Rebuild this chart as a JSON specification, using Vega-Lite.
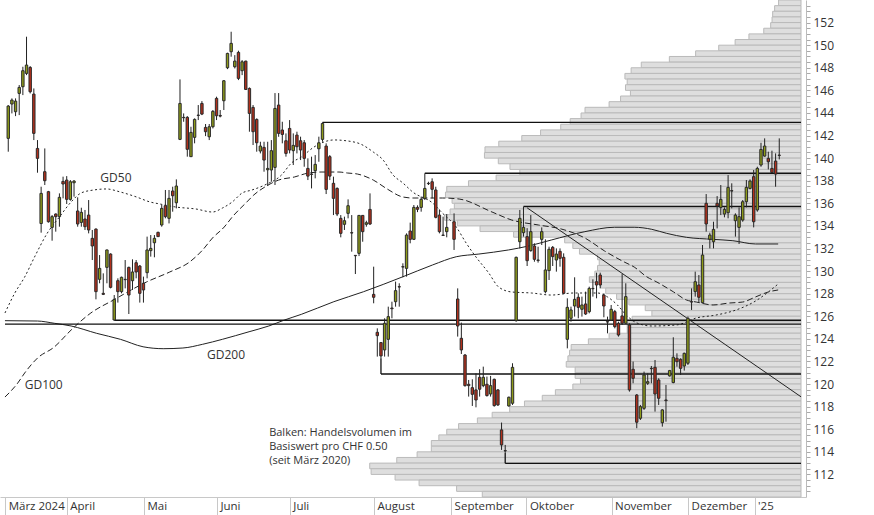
{
"$schema":"https://vega.github.io/schema/vega-lite/v6.json",
"width":806,"height":497,"autosize":{"type":"none"},"padding":{"left":0,"top":0,"right":68,"bottom":18},"background":"white",
"config":{"view":{"stroke":null},"font":"Open Sans","axis":{"grid":false,"labelFont":"Open Sans","labelColor":"#333333"}},
"datasets":{
"vol":[{"lo":153.5,"hi":154,"x0":210.81},{"lo":153,"hi":153.5,"x0":209.73},{"lo":152.5,"hi":153,"x0":209.19},{"lo":152,"hi":152.5,"x0":209.03},{"lo":151.5,"hi":152,"x0":208.65},{"lo":151,"hi":151.5,"x0":206.76},{"lo":150.5,"hi":151,"x0":202.7},{"lo":150,"hi":150.5,"x0":198.92},{"lo":149.5,"hi":150,"x0":194.43},{"lo":149,"hi":149.5,"x0":188.11},{"lo":148.5,"hi":149,"x0":180.92},{"lo":148,"hi":148.5,"x0":173.24},{"lo":147.5,"hi":148,"x0":170.46},{"lo":147,"hi":147.5,"x0":168.76},{"lo":146.5,"hi":147,"x0":169.38},{"lo":146,"hi":146.5,"x0":168.92},{"lo":145.5,"hi":146,"x0":170.27},{"lo":145,"hi":145.5,"x0":167.57},{"lo":144.5,"hi":145,"x0":164.43},{"lo":144,"hi":144.5,"x0":157.84},{"lo":143.5,"hi":144,"x0":156.76},{"lo":143,"hi":143.5,"x0":153.78},{"lo":142.5,"hi":143,"x0":151.19},{"lo":142,"hi":142.5,"x0":145.68},{"lo":141.5,"hi":142,"x0":140.54},{"lo":141,"hi":141.5,"x0":134.24},{"lo":140.5,"hi":141,"x0":130.46},{"lo":140,"hi":140.5,"x0":130.32},{"lo":139.5,"hi":140,"x0":134.11},{"lo":139,"hi":139.5,"x0":137.3},{"lo":138.5,"hi":139,"x0":140.0},{"lo":138,"hi":138.5,"x0":133.51},{"lo":137.5,"hi":138,"x0":125.95},{"lo":137,"hi":137.5,"x0":120.0},{"lo":136.5,"hi":137,"x0":119.65},{"lo":136,"hi":136.5,"x0":121.46},{"lo":135.5,"hi":136,"x0":122.08},{"lo":135,"hi":135.5,"x0":120.92},{"lo":134.5,"hi":135,"x0":119.38},{"lo":134,"hi":134.5,"x0":122.89},{"lo":133.5,"hi":134,"x0":129.11},{"lo":133,"hi":133.5,"x0":138.3},{"lo":132.5,"hi":133,"x0":152.27},{"lo":132,"hi":132.5,"x0":154.51},{"lo":131.5,"hi":132,"x0":156.32},{"lo":131,"hi":131.5,"x0":161.27},{"lo":130.5,"hi":131,"x0":161.73},{"lo":130,"hi":130.5,"x0":161.27},{"lo":129.5,"hi":130,"x0":160.54},{"lo":129,"hi":129.5,"x0":159.03},{"lo":128.5,"hi":129,"x0":162.16},{"lo":128,"hi":128.5,"x0":163.51},{"lo":127.5,"hi":128,"x0":166.49},{"lo":127,"hi":127.5,"x0":169.84},{"lo":126.5,"hi":127,"x0":174.32},{"lo":126,"hi":126.5,"x0":176.14},{"lo":125.5,"hi":126,"x0":170.73},{"lo":125,"hi":125.5,"x0":169.38},{"lo":124.5,"hi":125,"x0":169.38},{"lo":124,"hi":124.5,"x0":164.43},{"lo":123.5,"hi":124,"x0":158.76},{"lo":123,"hi":123.5,"x0":154.05},{"lo":122.5,"hi":123,"x0":153.62},{"lo":122,"hi":122.5,"x0":153.16},{"lo":121.5,"hi":122,"x0":152.7},{"lo":121,"hi":121.5,"x0":155.14},{"lo":120.5,"hi":121,"x0":155.14},{"lo":120,"hi":120.5,"x0":156.59},{"lo":119.5,"hi":120,"x0":154.51},{"lo":119,"hi":119.5,"x0":149.73},{"lo":118.5,"hi":119,"x0":146.14},{"lo":118,"hi":118.5,"x0":141.27},{"lo":117.5,"hi":118,"x0":137.22},{"lo":117,"hi":117.5,"x0":132.43},{"lo":116.5,"hi":117,"x0":128.38},{"lo":116,"hi":116.5,"x0":123.24},{"lo":115.5,"hi":116,"x0":120.0},{"lo":115,"hi":115.5,"x0":117.84},{"lo":114.5,"hi":115,"x0":115.78},{"lo":114,"hi":114.5,"x0":115.78},{"lo":113.5,"hi":114,"x0":111.89},{"lo":113,"hi":113.5,"x0":106.32},{"lo":112.5,"hi":113,"x0":98.92},{"lo":112,"hi":112.5,"x0":99.3},{"lo":111.5,"hi":112,"x0":105.86},{"lo":111,"hi":111.5,"x0":112.43},{"lo":110.5,"hi":111,"x0":122.7},{"lo":110,"hi":110.5,"x0":129.73}],
"candles":[
{"i":0,"o":141.75,"h":144.7,"l":140.57,"c":144.61},{"i":1,"o":144.79,"h":145.29,"l":143.96,"c":145.14},{"i":2,"o":144.11,"h":145.29,"l":143.72,"c":145.05},{"i":3,"o":145.73,"h":146.47,"l":143.81,"c":146.26},{"i":4,"o":146.32,"h":148.09,"l":145.58,"c":147.74},{"i":5,"o":147.5,"h":150.75,"l":147.35,"c":148.24},{"i":6,"o":148.03,"h":148.15,"l":145.73,"c":145.88},{"i":7,"o":145.67,"h":146.17,"l":141.6,"c":142.19},{"i":8,"o":140.86,"h":141.6,"l":138.71,"c":139.98},{"i":9,"o":134.21,"h":137.47,"l":133.4,"c":136.88},
{"i":10,"o":138.8,"h":140.86,"l":137.62,"c":138.0},{"i":11,"o":137.03,"h":137.1,"l":134.29,"c":134.37},{"i":12,"o":133.87,"h":134.96,"l":132.69,"c":134.82},{"i":13,"o":135.05,"h":135.11,"l":133.49,"c":134.82},{"i":14,"o":134.82,"h":136.88,"l":133.93,"c":136.53},{"i":15,"o":137.94,"h":138.36,"l":136.44,"c":137.71},{"i":16,"o":138.06,"h":138.41,"l":135.94,"c":136.35},{"i":17,"o":136.35,"h":138.06,"l":136.23,"c":137.91},{"i":18,"o":137.82,"h":138.06,"l":136.59,"c":137.97},{"i":19,"o":135.32,"h":136.53,"l":133.93,"c":134.17},
{"i":20,"o":134.31,"h":135.61,"l":133.93,"c":135.2},{"i":21,"o":134.61,"h":135.41,"l":133.64,"c":133.93},{"i":22,"o":134.96,"h":136.29,"l":133.34,"c":133.64},{"i":23,"o":132.9,"h":133.64,"l":130.98,"c":132.22},{"i":24,"o":133.72,"h":133.78,"l":127.5,"c":128.18},{"i":25,"o":129.27,"h":131.42,"l":128.92,"c":130.24},{"i":26,"o":128.03,"h":129.8,"l":127.88,"c":127.94},{"i":27,"o":130.33,"h":131.9,"l":128.92,"c":131.87},{"i":28,"o":131.51,"h":131.57,"l":128.47,"c":128.56},{"i":29,"o":125.67,"h":127.88,"l":125.65,"c":127.5},
{"i":30,"o":129.15,"h":129.36,"l":127.21,"c":128.18},{"i":31,"o":128.18,"h":129.51,"l":128.03,"c":129.45},{"i":32,"o":129.27,"h":130.98,"l":128.47,"c":129.24},{"i":33,"o":130.33,"h":130.39,"l":126.2,"c":127.88},{"i":34,"o":129.15,"h":131.04,"l":128.33,"c":129.92},{"i":35,"o":130.74,"h":130.98,"l":129.36,"c":129.92},{"i":36,"o":130.45,"h":130.54,"l":127.21,"c":128.03},{"i":37,"o":128.92,"h":129.51,"l":127.21,"c":128.33},{"i":38,"o":129.86,"h":133.05,"l":129.36,"c":131.87},{"i":39,"o":131.81,"h":133.19,"l":131.28,"c":132.01},
{"i":40,"o":132.51,"h":133.19,"l":131.22,"c":132.9},{"i":41,"o":133.43,"h":133.49,"l":133.05,"c":133.05},{"i":42,"o":134.08,"h":135.85,"l":133.93,"c":135.55},{"i":43,"o":135.79,"h":137.18,"l":134.67,"c":134.82},{"i":44,"o":134.67,"h":137.18,"l":134.22,"c":136.44},{"i":45,"o":137.09,"h":137.47,"l":135.26,"c":136.67},{"i":46,"o":136.05,"h":138.12,"l":135.55,"c":137.53},{"i":47,"o":141.66,"h":146.97,"l":141.6,"c":144.84},{"i":48,"o":143.61,"h":143.96,"l":143.22,"c":143.58},{"i":49,"o":143.61,"h":143.72,"l":140.13,"c":140.78},
{"i":50,"o":140.13,"h":142.78,"l":140.1,"c":142.28},{"i":51,"o":141.84,"h":143.52,"l":141.31,"c":143.43},{"i":52,"o":143.81,"h":144.7,"l":143.37,"c":143.78},{"i":53,"o":144.84,"h":145.05,"l":143.81,"c":143.9},{"i":54,"o":142.72,"h":143.02,"l":141.95,"c":142.34},{"i":55,"o":141.89,"h":143.02,"l":141.6,"c":142.78},{"i":56,"o":142.78,"h":144.26,"l":142.63,"c":144.14},{"i":57,"o":145.29,"h":145.44,"l":143.37,"c":143.75},{"i":58,"o":143.78,"h":144.26,"l":143.61,"c":143.72},{"i":59,"o":145.08,"h":146.91,"l":144.26,"c":146.85},
{"i":60,"o":148.0,"h":149.33,"l":147.88,"c":149.27},{"i":61,"o":149.42,"h":151.19,"l":148.98,"c":150.16},{"i":62,"o":148.09,"h":149.12,"l":147.94,"c":148.59},{"i":63,"o":149.36,"h":149.51,"l":146.91,"c":147.06},{"i":64,"o":147.74,"h":148.68,"l":147.35,"c":148.53},{"i":65,"o":148.59,"h":148.62,"l":146.03,"c":146.08},{"i":66,"o":146.17,"h":146.26,"l":142.34,"c":143.96},{"i":67,"o":144.49,"h":144.7,"l":141.16,"c":142.34},{"i":68,"o":143.43,"h":143.52,"l":140.57,"c":141.36},{"i":69,"o":140.63,"h":141.45,"l":140.42,"c":141.07},
{"i":70,"o":140.95,"h":141.45,"l":138.8,"c":139.83},{"i":71,"o":138.97,"h":141.45,"l":137.53,"c":139.09},{"i":72,"o":138.95,"h":141.6,"l":137.91,"c":140.66},{"i":73,"o":139.18,"h":145.76,"l":137.62,"c":144.4},{"i":74,"o":144.7,"h":145.76,"l":141.89,"c":142.19},{"i":75,"o":142.49,"h":143.22,"l":141.31,"c":142.1},{"i":76,"o":141.54,"h":142.19,"l":140.13,"c":140.42},{"i":77,"o":142.63,"h":143.37,"l":140.42,"c":140.72},{"i":78,"o":140.66,"h":142.19,"l":139.39,"c":141.13},{"i":79,"o":142.04,"h":142.34,"l":140.42,"c":141.01},
{"i":80,"o":141.54,"h":141.9,"l":139.83,"c":140.72},{"i":81,"o":141.36,"h":141.6,"l":139.24,"c":139.98},{"i":82,"o":139.09,"h":139.98,"l":138.06,"c":138.41},{"i":83,"o":138.59,"h":140.13,"l":137.32,"c":138.56},{"i":84,"o":138.89,"h":140.27,"l":138.21,"c":139.45},{"i":85,"o":140.83,"h":141.9,"l":139.68,"c":141.36},{"i":86,"o":141.66,"h":143.16,"l":141.45,"c":143.07},{"i":87,"o":141.07,"h":141.31,"l":136.82,"c":137.23},{"i":88,"o":140.13,"h":140.27,"l":138.06,"c":138.41},{"i":89,"o":137.77,"h":138.36,"l":134.96,"c":136.44},
{"i":90,"o":137.32,"h":137.41,"l":134.87,"c":135.05},{"i":91,"o":134.67,"h":134.96,"l":132.99,"c":133.34},{"i":92,"o":134.14,"h":134.82,"l":133.64,"c":134.46},{"i":93,"o":135.11,"h":136.35,"l":134.67,"c":135.79},{"i":94,"o":133.4,"h":134.96,"l":131.72,"c":133.37},{"i":95,"o":131.39,"h":131.42,"l":129.74,"c":131.36},{"i":96,"o":131.57,"h":134.96,"l":131.33,"c":134.93},{"i":97,"o":134.93,"h":134.96,"l":132.6,"c":133.49},{"i":98,"o":134.14,"h":134.46,"l":133.93,"c":134.28},{"i":99,"o":135.46,"h":136.88,"l":134.08,"c":134.17},
{"i":100,"o":127.94,"h":130.39,"l":127.15,"c":127.68},{"i":101,"o":124.58,"h":124.93,"l":122.43,"c":124.28},{"i":102,"o":123.67,"h":123.72,"l":122.28,"c":122.49},{"i":103,"o":123.02,"h":125.82,"l":122.43,"c":125.38},{"i":104,"o":123.96,"h":126.85,"l":122.43,"c":125.97},{"i":105,"o":126.73,"h":127.29,"l":125.82,"c":126.67},{"i":106,"o":127.29,"h":129.07,"l":126.85,"c":128.27},{"i":107,"o":128.62,"h":128.92,"l":126.85,"c":128.59},{"i":108,"o":130.39,"h":130.69,"l":129.45,"c":130.36},{"i":109,"o":130.24,"h":133.34,"l":129.51,"c":133.19},
{"i":110,"o":133.55,"h":134.29,"l":132.46,"c":132.81},{"i":111,"o":132.81,"h":135.85,"l":132.75,"c":135.64},{"i":112,"o":135.64,"h":135.82,"l":135.22,"c":135.47},{"i":113,"o":135.64,"h":136.59,"l":135.26,"c":136.35},{"i":114,"o":136.44,"h":138.65,"l":136.29,"c":137.32},{"i":115,"o":137.77,"h":137.91,"l":137.62,"c":137.74},{"i":116,"o":137.91,"h":138.21,"l":136.44,"c":137.24},{"i":117,"o":137.18,"h":137.47,"l":134.67,"c":134.76},{"i":118,"o":134.96,"h":135.46,"l":133.34,"c":133.49},{"i":119,"o":133.19,"h":134.82,"l":133.11,"c":133.16},
{"i":120,"o":133.49,"h":135.05,"l":132.99,"c":133.87},{"i":122,"o":134.37,"h":135.11,"l":131.87,"c":132.81},{"i":123,"o":127.53,"h":128.47,"l":124.2,"c":125.14},{"i":124,"o":124.05,"h":125.44,"l":122.66,"c":123.02},{"i":125,"o":122.57,"h":122.66,"l":119.77,"c":119.86},{"i":126,"o":119.98,"h":120.36,"l":118.89,"c":119.86},{"i":127,"o":119.68,"h":120.42,"l":118.06,"c":119.09},{"i":128,"o":119.48,"h":120.95,"l":117.94,"c":118.59},{"i":129,"o":120.6,"h":121.31,"l":118.89,"c":119.54},
{"i":130,"o":119.86,"h":121.54,"l":119.72,"c":120.6},{"i":131,"o":119.98,"h":120.66,"l":118.89,"c":118.98},{"i":132,"o":119.12,"h":120.72,"l":118.89,"c":119.86},{"i":133,"o":120.42,"h":120.48,"l":118.0,"c":118.09},{"i":134,"o":119.48,"h":119.54,"l":118.06,"c":118.15},{"i":135,"o":115.94,"h":116.59,"l":114.17,"c":114.61},{"i":136,"o":114.11,"h":114.61,"l":113.9,"c":114.08},{"i":137,"o":118.06,"h":118.89,"l":118.0,"c":118.83},{"i":138,"o":118.3,"h":121.84,"l":118.15,"c":121.48},{"i":139,"o":125.61,"h":131.28,"l":125.52,"c":131.22},
{"i":140,"o":132.6,"h":135.41,"l":132.01,"c":134.67},{"i":141,"o":133.4,"h":135.7,"l":133.05,"c":133.87},{"i":142,"o":133.05,"h":133.8,"l":130.45,"c":130.92},{"i":143,"o":131.81,"h":134.96,"l":131.72,"c":133.49},{"i":144,"o":132.22,"h":132.46,"l":130.83,"c":131.04},{"i":145,"o":130.98,"h":132.16,"l":130.75,"c":130.95},{"i":146,"o":132.81,"h":133.87,"l":132.31,"c":133.49},{"i":147,"o":128.18,"h":132.81,"l":128.03,"c":130.1},{"i":148,"o":130.04,"h":132.16,"l":129.21,"c":131.93},{"i":149,"o":132.1,"h":132.22,"l":130.45,"c":131.28},
{"i":150,"o":130.98,"h":132.01,"l":129.95,"c":131.51},{"i":151,"o":131.75,"h":132.01,"l":130.39,"c":131.13},{"i":152,"o":131.22,"h":131.57,"l":127.97,"c":128.03},{"i":153,"o":123.96,"h":127.59,"l":123.16,"c":126.79},{"i":154,"o":125.82,"h":126.85,"l":125.52,"c":126.56},{"i":155,"o":126.91,"h":129.45,"l":125.97,"c":127.5},{"i":156,"o":127.68,"h":128.03,"l":125.82,"c":126.79},{"i":157,"o":126.62,"h":127.74,"l":125.97,"c":127.0},{"i":158,"o":127.09,"h":128.18,"l":126.12,"c":126.2},{"i":159,"o":126.41,"h":128.62,"l":126.26,"c":128.47},
{"i":160,"o":128.47,"h":129.27,"l":127.74,"c":128.44},{"i":161,"o":129.06,"h":129.86,"l":127.59,"c":128.77},{"i":162,"o":129.65,"h":129.86,"l":128.47,"c":128.77},{"i":163,"o":127.88,"h":128.03,"l":125.91,"c":126.91},{"i":164,"o":125.52,"h":125.97,"l":124.49,"c":125.49},{"i":165,"o":125.67,"h":127.0,"l":125.61,"c":126.62},{"i":166,"o":126.41,"h":126.56,"l":124.93,"c":125.08},{"i":167,"o":125.38,"h":125.52,"l":124.2,"c":124.34},{"i":168,"o":126.03,"h":129.74,"l":125.23,"c":125.38},{"i":169,"o":125.38,"h":128.92,"l":125.32,"c":127.74},
{"i":170,"o":125.23,"h":125.38,"l":119.33,"c":119.48},{"i":171,"o":121.31,"h":121.99,"l":120.07,"c":120.51},{"i":172,"o":119.03,"h":119.12,"l":116.09,"c":116.62},{"i":173,"o":116.97,"h":118.15,"l":116.82,"c":118.0},{"i":174,"o":117.85,"h":121.1,"l":117.71,"c":120.8},{"i":175,"o":120.07,"h":120.95,"l":119.92,"c":120.21},{"i":176,"o":121.39,"h":121.6,"l":120.07,"c":121.36},{"i":177,"o":121.48,"h":122.13,"l":117.56,"c":119.12},{"i":178,"o":120.36,"h":120.51,"l":118.15,"c":118.74},{"i":179,"o":116.58,"h":117.77,"l":116.23,"c":117.71},
{"i":180,"o":118.59,"h":119.92,"l":116.67,"c":118.53},{"i":181,"o":120.72,"h":121.25,"l":120.66,"c":121.19},{"i":182,"o":120.13,"h":124.14,"l":120.07,"c":122.37},{"i":183,"o":122.28,"h":122.72,"l":121.54,"c":121.98},{"i":184,"o":122.19,"h":122.28,"l":120.8,"c":121.39},{"i":185,"o":121.6,"h":122.78,"l":121.19,"c":122.72},{"i":186,"o":121.84,"h":125.97,"l":121.69,"c":125.82},{"i":187,"o":127.29,"h":128.47,"l":126.56,"c":127.26},{"i":188,"o":128.18,"h":129.95,"l":127.74,"c":129.06},{"i":189,"o":128.77,"h":129.65,"l":127.2,"c":127.68},
{"i":190,"o":127.2,"h":132.31,"l":127.15,"c":131.42},{"i":191,"o":136.0,"h":136.82,"l":133.49,"c":134.17},{"i":192,"o":132.81,"h":133.4,"l":132.01,"c":133.19},{"i":193,"o":132.6,"h":134.37,"l":132.01,"c":133.69},{"i":194,"o":136.0,"h":136.64,"l":133.78,"c":135.76},{"i":195,"o":135.64,"h":137.62,"l":134.96,"c":136.35},{"i":196,"o":135.05,"h":135.64,"l":134.76,"c":135.46},{"i":197,"o":135.17,"h":138.5,"l":134.67,"c":137.41},{"i":198,"o":137.12,"h":137.77,"l":135.55,"c":137.09},{"i":199,"o":134.46,"h":135.11,"l":133.05,"c":134.96},
{"i":200,"o":133.87,"h":135.64,"l":132.4,"c":134.82},{"i":201,"o":134.52,"h":136.29,"l":134.37,"c":136.14},{"i":202,"o":136.14,"h":138.06,"l":135.64,"c":137.41},{"i":203,"o":137.32,"h":138.12,"l":137.23,"c":137.97},{"i":204,"o":138.36,"h":138.95,"l":133.87,"c":134.37},{"i":205,"o":135.41,"h":139.24,"l":135.26,"c":139.09},{"i":206,"o":139.39,"h":141.36,"l":139.24,"c":140.77},{"i":207,"o":140.18,"h":141.75,"l":140.13,"c":141.07},{"i":208,"o":139.98,"h":140.57,"l":139.0,"c":139.68},{"i":209,"o":139.09,"h":140.66,"l":138.71,"c":138.73},
{"i":210,"o":139.74,"h":140.42,"l":137.47,"c":138.59},{"i":211,"o":140.27,"h":141.75,"l":139.89,"c":140.24}],
"gd50":[{"i":-0.9,"p":126.29},{"i":1.8,"p":128.06},{"i":4.5,"p":129.48},{"i":7.2,"p":131.25},{"i":10.7,"p":133.37},{"i":14,"p":134.79},{"i":17.2,"p":136.12},{"i":19.9,"p":136.91},{"i":23.4,"p":137.18},{"i":26.9,"p":137.27},{"i":30.7,"p":137.0},{"i":35.1,"p":136.56},{"i":38.8,"p":136.12},{"i":41.5,"p":135.94},{"i":45.9,"p":135.67},{"i":51.3,"p":135.5},{"i":55.9,"p":135.23},{"i":58.6,"p":135.58},{"i":61.3,"p":136.12},{"i":64,"p":136.91},{"i":66.7,"p":137.18},{"i":70.2,"p":137.62},{"i":74.8,"p":138.51},{"i":77.5,"p":139.57},{"i":80.2,"p":140.1},{"i":83.7,"p":140.99},{"i":86.4,"p":141.43},{"i":89.1,"p":141.61},{"i":92.9,"p":141.52},{"i":96.4,"p":141.25},{"i":99.9,"p":140.54},{"i":102.6,"p":139.83},{"i":105.3,"p":138.51},{"i":108,"p":137.8},{"i":110.7,"p":137.0},{"i":116.1,"p":136.03},{"i":118.8,"p":135.14},{"i":122.6,"p":133.9},{"i":125.3,"p":132.49},{"i":128,"p":131.25},{"i":131.5,"p":129.83},{"i":134.2,"p":128.59},{"i":137.8,"p":128.15},{"i":143.2,"p":128.06},{"i":148.6,"p":127.88},{"i":154.8,"p":128.06},{"i":161.3,"p":128.06},{"i":164,"p":127.71},{"i":166.7,"p":127.0},{"i":169.4,"p":126.02},{"i":172.1,"p":125.4},{"i":176.1,"p":125.14},{"i":182.9,"p":125.23},{"i":188.3,"p":125.85},{"i":193.7,"p":126.11},{"i":199.1,"p":126.55},{"i":204.5,"p":127.35},{"i":208,"p":128.15},{"i":210.7,"p":128.86}],
"gd100":[{"i":-0.9,"p":118.85},{"i":2.6,"p":120.09},{"i":4.5,"p":120.98},{"i":8,"p":122.3},{"i":12.6,"p":123.28},{"i":17.2,"p":124.78},{"i":22.6,"p":126.29},{"i":28.8,"p":127.44},{"i":37.8,"p":129.03},{"i":44.2,"p":129.92},{"i":49.6,"p":130.8},{"i":53.2,"p":131.87},{"i":55.9,"p":132.93},{"i":59.1,"p":133.9},{"i":61.3,"p":134.79},{"i":65.3,"p":136.12},{"i":67.2,"p":136.74},{"i":70.2,"p":137.44},{"i":74,"p":138.06},{"i":78.3,"p":138.33},{"i":82.1,"p":138.68},{"i":85.6,"p":138.77},{"i":90.5,"p":138.77},{"i":92.9,"p":138.68},{"i":95.6,"p":138.59},{"i":99.9,"p":138.06},{"i":103.7,"p":137.27},{"i":108,"p":136.56},{"i":110.7,"p":136.47},{"i":118.8,"p":136.47},{"i":123.4,"p":136.38},{"i":132.4,"p":135.23},{"i":137.8,"p":134.52},{"i":145.1,"p":134.08},{"i":151.3,"p":133.73},{"i":157.8,"p":132.93},{"i":163.2,"p":131.78},{"i":168.6,"p":130.8},{"i":171.3,"p":130.36},{"i":174.8,"p":129.48},{"i":177.5,"p":129.03},{"i":182.1,"p":128.15},{"i":185.6,"p":127.44},{"i":188.3,"p":127.26},{"i":192.9,"p":127.0},{"i":197.2,"p":127.17},{"i":201,"p":127.26},{"i":204.5,"p":127.71},{"i":208,"p":128.15},{"i":210.7,"p":128.33}],
"gd200":[{"i":-0.9,"p":125.61},{"i":8,"p":125.58},{"i":12.6,"p":125.38},{"i":17.2,"p":125.14},{"i":24.2,"p":124.49},{"i":30.7,"p":123.96},{"i":36.9,"p":123.3},{"i":42.4,"p":123.13},{"i":47.8,"p":123.19},{"i":53.2,"p":123.52},{"i":58.6,"p":123.96},{"i":65.9,"p":124.63},{"i":71.3,"p":125.14},{"i":75.6,"p":125.67},{"i":80.2,"p":126.17},{"i":89.1,"p":127.29},{"i":97.2,"p":128.17},{"i":108,"p":129.5},{"i":116.1,"p":130.54},{"i":122.6,"p":131.27},{"i":128.8,"p":131.51},{"i":136.9,"p":131.87},{"i":142.4,"p":132.22},{"i":148.6,"p":132.75},{"i":157.8,"p":133.49},{"i":165.9,"p":133.88},{"i":171.3,"p":133.88},{"i":176.1,"p":133.7},{"i":180.2,"p":133.34},{"i":185.6,"p":132.99},{"i":192.9,"p":132.81},{"i":198.3,"p":132.69},{"i":204.5,"p":132.4},{"i":210.7,"p":132.4}],
"hlines":[{"i1":86,"i2":216.95,"p":143.16},{"i1":114,"i2":216.95,"p":138.66},{"i1":141,"i2":216.95,"p":135.72},{"i1":29,"i2":216.95,"p":125.65},{"i1":-0.89,"i2":216.95,"p":125.31},{"i1":102,"i2":216.95,"p":120.89},{"i1":136,"i2":216.95,"p":112.98}],
"vlines":[{"i":102,"p1":122.28,"p2":120.89},{"i":136,"p1":113.9,"p2":112.98}],
"trend":[{"i1":142,"p1":135.6,"i2":216.95,"p2":118.87}],
"labels":[{"i":25.2,"p":138.24,"t":"GD50"},{"i":54.4,"p":122.61,"t":"GD200"},{"i":4.5,"p":119.89,"t":"GD100"}],
"note":[{"i":71.4,"p":115.69,"t":"Balken: Handelsvolumen im"},{"i":71.4,"p":114.45,"t":"Basiswert pro CHF 0.50"},{"i":71.4,"p":113.21,"t":"(seit März 2020)"}]
},
"layer":[
{"data":{"name":"vol"},"mark":{"type":"rect","fill":"#dedede","stroke":"#bababa","strokeWidth":1},
 "encoding":{
  "x":{"field":"x0","type":"quantitative","title":null,"scale":{"domain":[-0.89,216.95],"nice":false,"zero":false},
    "axis":{"title":null,"values":[-0.85,16,37.15,57.1,77.05,100.1,121.2,141.8,165.1,186.05,204.25],"tickCount":100,
     "labelExpr":"datum.value < 0 ? 'März 2024' : datum.value < 20 ? 'April' : datum.value < 40 ? 'Mai' : datum.value < 60 ? 'Juni' : datum.value < 80 ? 'Juli' : datum.value < 110 ? 'August' : datum.value < 130 ? 'September' : datum.value < 150 ? 'Oktober' : datum.value < 175 ? 'November' : datum.value < 195 ? 'Dezember' : \"'25\"",
     "tickSize":18,"tickColor":"#c8c8c8","domainColor":"#c8c8c8","labelAlign":"left","labelOffset":3,"labelPadding":-15,"labelBaseline":"top","labelFontSize":11.5,"labelOverlap":false,"labelFlush":false,"labelBound":false}},
  "x2":{"datum":216.95},
  "y":{"field":"lo","type":"quantitative","title":null,"scale":{"domain":[110,154],"nice":false,"zero":false},
   "axis":{"orient":"right","title":null,"tickCount":400,"values":[110.5,111,111.5,112,112.5,113,113.5,114,114.5,115,115.5,116,116.5,117,117.5,118,118.5,119,119.5,120,120.5,121,121.5,122,122.5,123,123.5,124,124.5,125,125.5,126,126.5,127,127.5,128,128.5,129,129.5,130,130.5,131,131.5,132,132.5,133,133.5,134,134.5,135,135.5,136,136.5,137,137.5,138,138.5,139,139.5,140,140.5,141,141.5,142,142.5,143,143.5,144,144.5,145,145.5,146,146.5,147,147.5,148,148.5,149,149.5,150,150.5,151,151.5,152,152.5,153,153.5],
   "labelExpr":"datum.value % 2 === 0 && datum.value >= 112 && datum.value <= 152 ? '' + datum.value : ''","tickSize":4,"tickColor":"#aaaaaa","domainColor":"#bbbbbb","labelFontSize":12,"labelPadding":3,"labelOverlap":false,"labelBound":false,"labelFlush":false}},
  "y2":{"field":"hi"}}},
 {"data":{"name":"gd200"},"mark":{"type":"line","color":"#222222","strokeWidth":1,"interpolate":"monotone"},
  "encoding":{"x":{"field":"i","type":"quantitative","title":null},"y":{"field":"p","type":"quantitative","title":null}}},
 {"data":{"name":"gd100"},"mark":{"type":"line","color":"#222222","strokeWidth":1,"strokeDash":[6,3],"interpolate":"monotone"},
  "encoding":{"x":{"field":"i","type":"quantitative","title":null},"y":{"field":"p","type":"quantitative","title":null}}},
 {"data":{"name":"gd50"},"mark":{"type":"line","color":"#222222","strokeWidth":1,"strokeDash":[2,2.5],"interpolate":"monotone"},
  "encoding":{"x":{"field":"i","type":"quantitative","title":null},"y":{"field":"p","type":"quantitative","title":null}}},
 {"data":{"name":"hlines"},"mark":{"type":"rule","color":"#111111","strokeWidth":1.3},
  "encoding":{"x":{"field":"i1","type":"quantitative","title":null},"x2":{"field":"i2"},"y":{"field":"p","type":"quantitative","title":null}}},
 {"data":{"name":"vlines"},"mark":{"type":"rule","color":"#111111","strokeWidth":1.3},
  "encoding":{"x":{"field":"i","type":"quantitative","title":null},"y":{"field":"p1","type":"quantitative","title":null},"y2":{"field":"p2"}}},
 {"data":{"name":"trend"},"mark":{"type":"rule","color":"#222222","strokeWidth":1},
  "encoding":{"x":{"field":"i1","type":"quantitative","title":null},"x2":{"field":"i2"},"y":{"field":"p1","type":"quantitative","title":null},"y2":{"field":"p2"}}},
 {"data":{"name":"candles"},"mark":{"type":"rule","color":"#222222","strokeWidth":1},
  "encoding":{"x":{"field":"i","type":"quantitative","title":null},"y":{"field":"l","type":"quantitative","title":null},"y2":{"field":"h"}}},
 {"data":{"name":"candles"},"mark":{"type":"bar","orient":"vertical","size":2.4,"stroke":"#2a2a2a","strokeWidth":1},
  "encoding":{"x":{"field":"i","type":"quantitative","title":null},"y":{"field":"o","type":"quantitative","title":null},"y2":{"field":"c"},
   "fill":{"condition":{"test":"datum.c >= datum.o","value":"#8f9c1a"},"value":"#b3301c"}}},
 {"data":{"name":"labels"},"mark":{"type":"text","align":"left","baseline":"middle","fontSize":12,"font":"Open Sans","color":"#333333"},
  "encoding":{"x":{"field":"i","type":"quantitative","title":null},"y":{"field":"p","type":"quantitative","title":null},"text":{"field":"t"}}},
 {"data":{"name":"note"},"mark":{"type":"text","align":"left","baseline":"middle","fontSize":11,"font":"Open Sans","color":"#333333"},
  "encoding":{"x":{"field":"i","type":"quantitative","title":null},"y":{"field":"p","type":"quantitative","title":null},"text":{"field":"t"}}}
]
}
